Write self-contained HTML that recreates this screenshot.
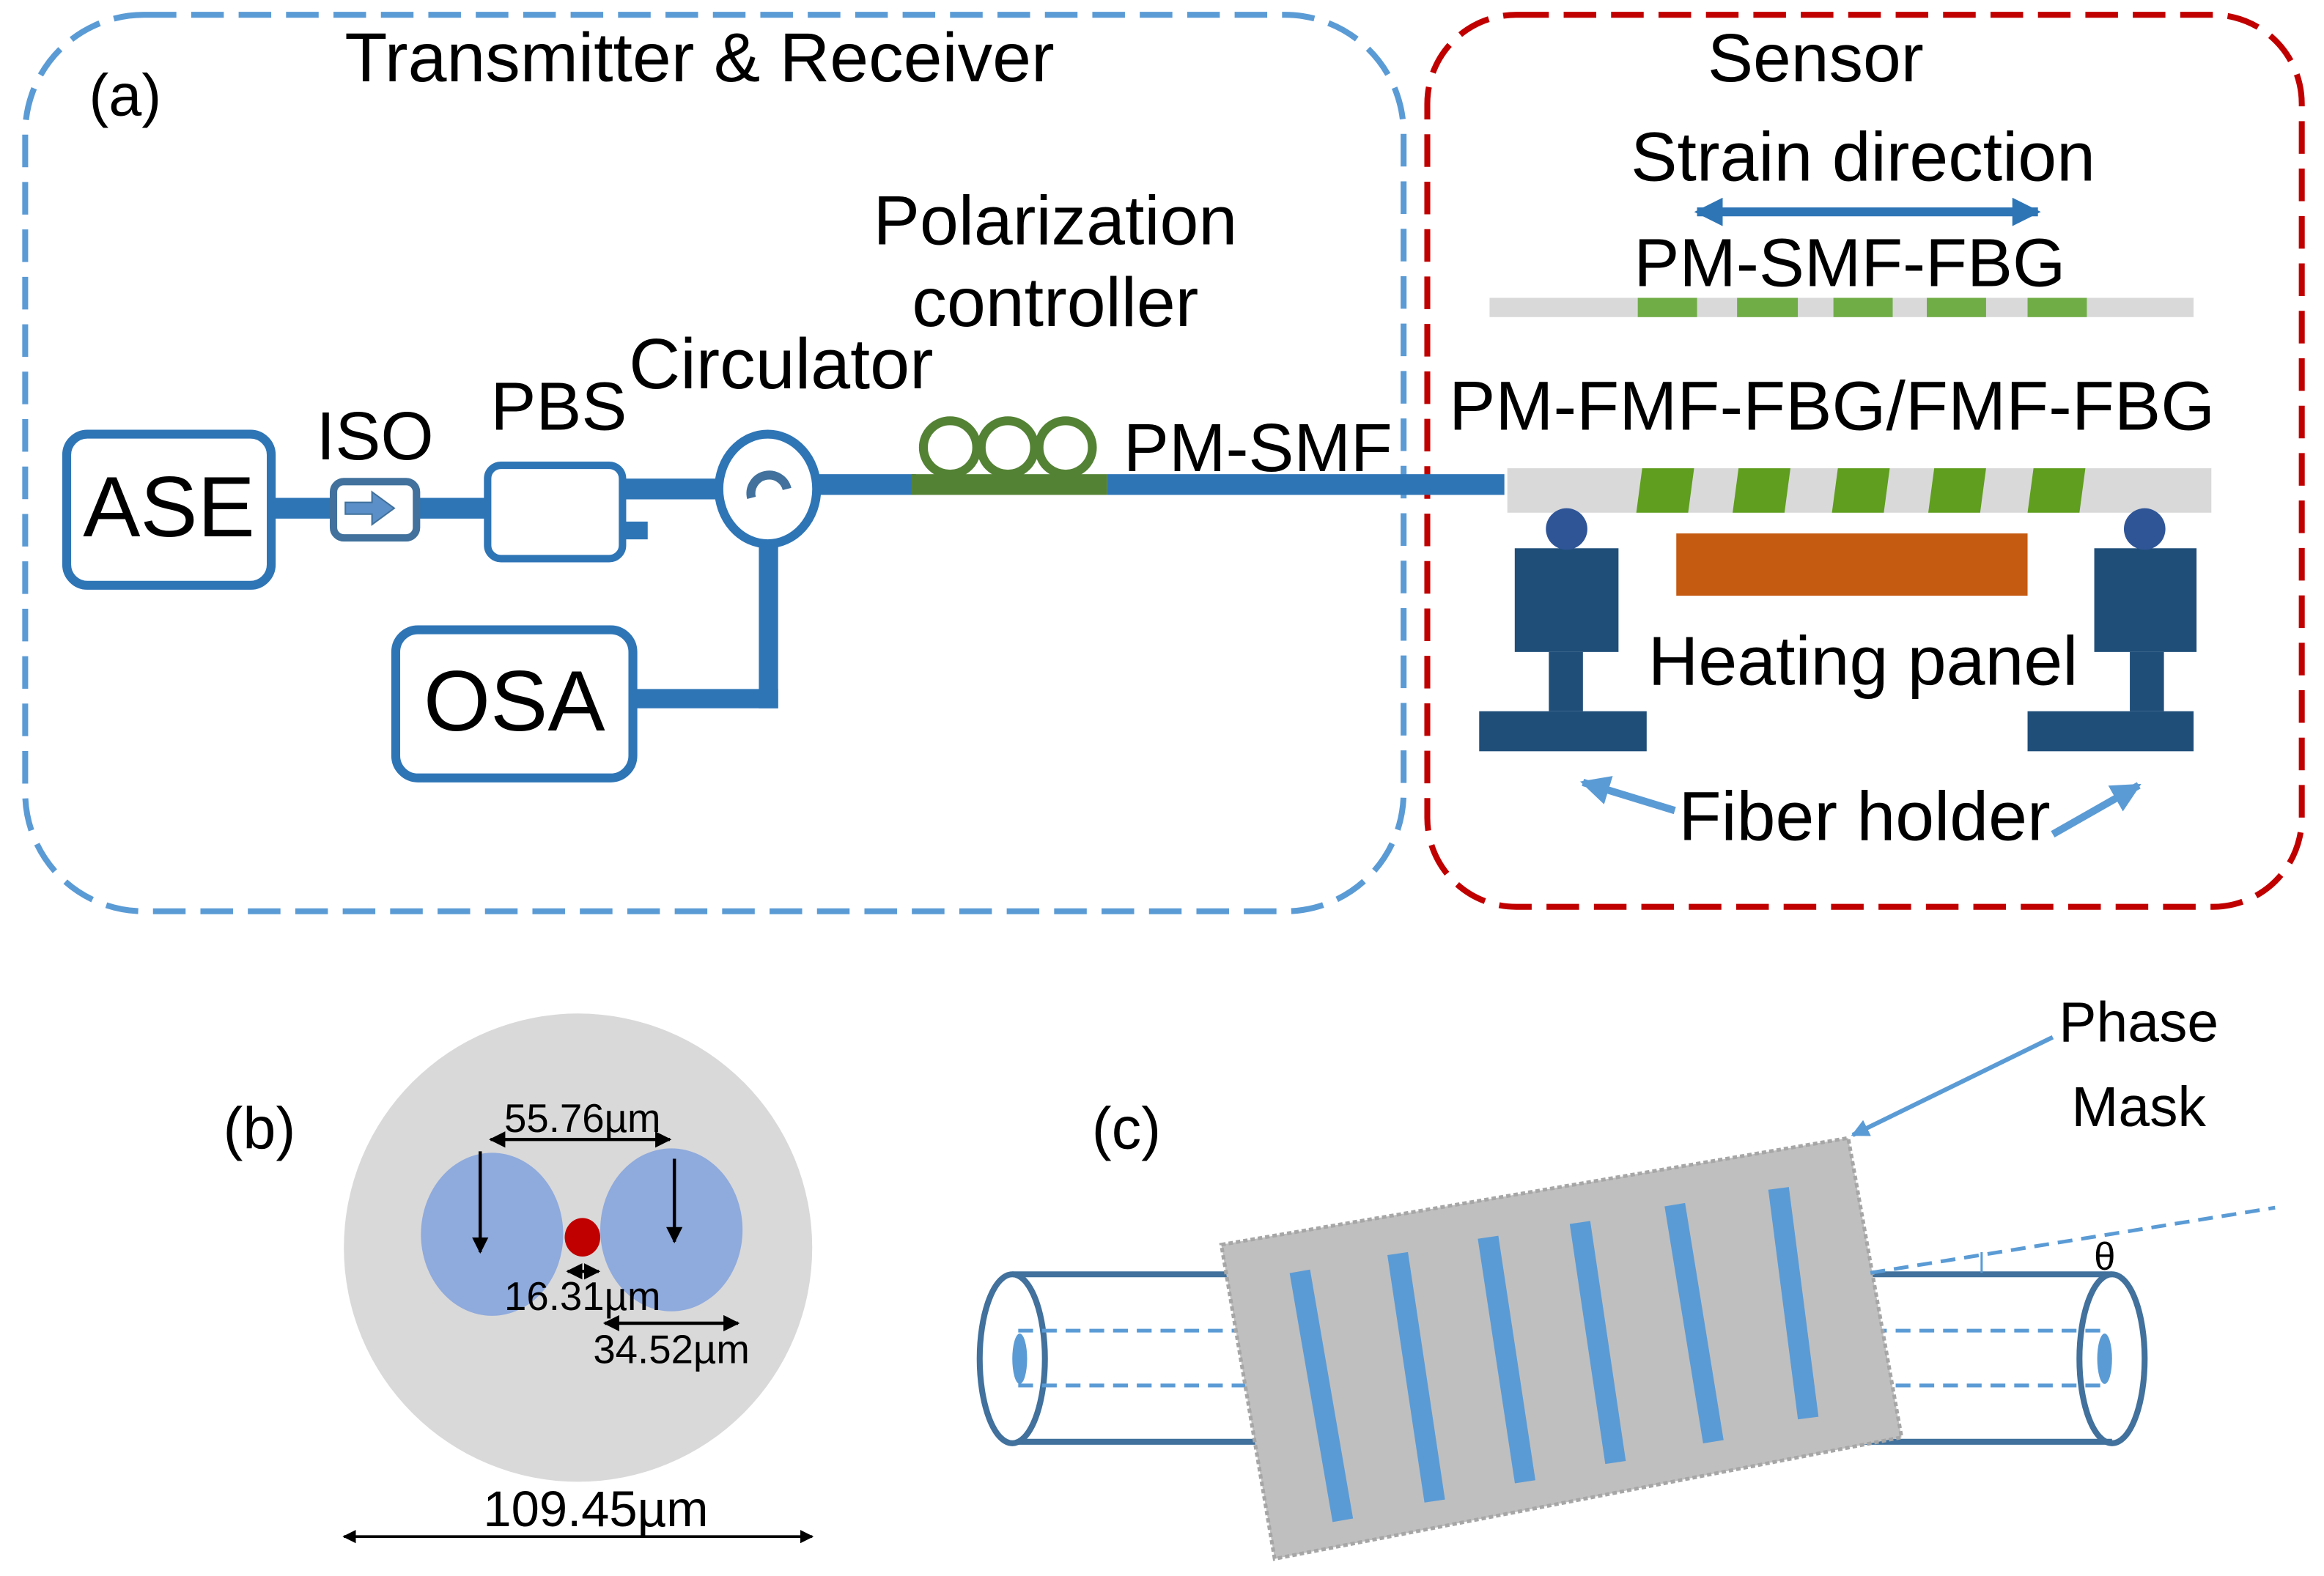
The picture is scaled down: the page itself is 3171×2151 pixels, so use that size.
<!DOCTYPE html>
<html><head><meta charset="utf-8"><style>html,body{margin:0;padding:0;background:#fff}svg{display:block}</style></head><body>
<svg width="3171" height="2151" viewBox="0 0 1568 1063.6" preserveAspectRatio="none" xmlns="http://www.w3.org/2000/svg" font-family="Liberation Sans, Arial, sans-serif">
<defs>
<marker id="ab" viewBox="0 0 10 10" refX="9" refY="5" markerWidth="5" markerHeight="5" orient="auto-start-reverse"><path d="M0,0L10,5L0,10z" fill="#000"/></marker>
<marker id="ablue" viewBox="0 0 10 10" refX="9" refY="5" markerWidth="3.2" markerHeight="3.2" orient="auto-start-reverse"><path d="M0,0L10,5L0,10z" fill="#2e75b6"/></marker>
<marker id="alb" viewBox="0 0 10 10" refX="9" refY="5" markerWidth="4" markerHeight="4" orient="auto-start-reverse"><path d="M0,0L10,5L0,10z" fill="#5b9bd5"/></marker>
</defs>
<rect x="17" y="10" width="930" height="605" rx="80" fill="none" stroke="#5b9bd5" stroke-width="4" stroke-dasharray="22,10"/>
<rect x="963" y="10" width="590" height="602" rx="60" fill="none" stroke="#c00000" stroke-width="4" stroke-dasharray="22,10"/>
<text x="60" y="78" font-size="40">(a)</text>
<text x="472" y="55" font-size="47" text-anchor="middle">Transmitter &amp; Receiver</text>
<text x="1225" y="55" font-size="46" text-anchor="middle">Sensor</text>
<g fill="#2e75b6">
<rect x="183" y="336" width="147" height="14"/>
<rect x="420" y="323" width="70" height="14"/>
<rect x="420" y="352" width="17" height="12"/>
<rect x="548" y="320" width="70" height="14"/>
<rect x="747" y="320" width="268" height="14"/>
<rect x="512" y="365" width="13" height="113"/>
<rect x="427" y="465" width="98" height="13"/>
</g>
<rect x="615" y="320" width="132" height="14" fill="#548235"/>
<g fill="none" stroke="#548235" stroke-width="6"><circle cx="641" cy="302" r="18"/><circle cx="680" cy="302" r="18"/><circle cx="719" cy="302" r="18"/></g>
<rect x="45" y="293" width="138" height="102" rx="14" fill="#fff" stroke="#2e75b6" stroke-width="6"/>
<text x="114" y="362" font-size="58" text-anchor="middle">ASE</text>
<text x="253" y="310" font-size="46" text-anchor="middle">ISO</text>
<rect x="225" y="325" width="56" height="38" rx="7" fill="#fff" stroke="#41719c" stroke-width="5"/>
<path d="M233,339h18v-7l15,11l-15,11v-7h-18z" fill="#5b8fc7" stroke="#41719c" stroke-width="1"/>
<rect x="329" y="314" width="91" height="63" rx="9" fill="#fff" stroke="#2e75b6" stroke-width="5"/>
<text x="377" y="290" font-size="46" text-anchor="middle">PBS</text>
<text x="527" y="262" font-size="48" text-anchor="middle">Circulator</text>
<ellipse cx="518" cy="330" rx="33" ry="37" fill="#fff" stroke="#2e75b6" stroke-width="6"/>
<path d="M507,336 a12,12 0 1 1 24,-6" fill="none" stroke="#41719c" stroke-width="6"/>
<text x="712" y="165" font-size="47" text-anchor="middle">Polarization</text>
<text x="712" y="220" font-size="47" text-anchor="middle">controller</text>
<text x="758" y="318" font-size="46">PM-SMF</text>
<rect x="267" y="425" width="160" height="100" rx="15" fill="#fff" stroke="#2e75b6" stroke-width="6"/>
<text x="347" y="493" font-size="58" text-anchor="middle">OSA</text>
<text x="1257" y="122" font-size="47" text-anchor="middle">Strain direction</text>
<line x1="1145" y1="143" x2="1375" y2="143" stroke="#2e75b6" stroke-width="6" marker-start="url(#ablue)" marker-end="url(#ablue)"/>
<text x="1248" y="193" font-size="46" text-anchor="middle">PM-SMF-FBG</text>
<rect x="1005" y="201" width="475" height="13" fill="#d9d9d9"/>
<g fill="#70ad47"><rect x="1105" y="201" width="40" height="13"/><rect x="1172" y="201" width="41" height="13"/><rect x="1237" y="201" width="40" height="13"/><rect x="1300" y="201" width="40" height="13"/><rect x="1368" y="201" width="40" height="13"/></g>
<text x="1236" y="290" font-size="47" text-anchor="middle">PM-FMF-FBG/FMF-FBG</text>
<rect x="1017" y="316" width="475" height="30" fill="#d9d9d9"/>
<g fill="#5f9e1e"><path d="M1108,316h35l-4,30h-35z"/><path d="M1173,316h35l-4,30h-35z"/><path d="M1240,316h35l-4,30h-35z"/><path d="M1305,316h35l-4,30h-35z"/><path d="M1372,316h35l-4,30h-35z"/></g>
<g fill="#1f4e79"><rect x="1022" y="370" width="70" height="70"/><rect x="1045" y="440" width="23" height="40"/><rect x="998" y="480" width="113" height="27"/>
<rect x="1413" y="370" width="69" height="70"/><rect x="1437" y="440" width="23" height="40"/><rect x="1368" y="480" width="112" height="27"/></g>
<circle cx="1057" cy="357" r="14" fill="#2f5597"/><circle cx="1447" cy="357" r="14" fill="#2f5597"/>
<rect x="1131" y="360" width="237" height="42" fill="#c55a11"/>
<text x="1257" y="462" font-size="47" text-anchor="middle">Heating panel</text>
<text x="1258" y="567" font-size="47" text-anchor="middle">Fiber holder</text>
<line x1="1130" y1="547" x2="1068" y2="528" stroke="#5b9bd5" stroke-width="5" marker-end="url(#alb)"/>
<line x1="1385" y1="563" x2="1443" y2="530" stroke="#5b9bd5" stroke-width="5" marker-end="url(#alb)"/>
<text x="175" y="775" font-size="40" text-anchor="middle">(b)</text>
<circle cx="390" cy="842" r="158" fill="#d9d9d9"/>
<ellipse cx="332" cy="833" rx="48" ry="55" fill="#8faadc"/>
<ellipse cx="453" cy="830" rx="48" ry="55" fill="#8faadc"/>
<ellipse cx="393" cy="835" rx="12" ry="13" fill="#c00000"/>
<g font-size="27" text-anchor="middle">
<text x="393" y="764">55.76µm</text>
<text x="393" y="884">16.31µm</text>
<text x="453" y="920">34.52µm</text>
</g>
<g stroke="#000" stroke-width="2.2" fill="none">
<line x1="331" y1="769" x2="452" y2="769" marker-start="url(#ab)" marker-end="url(#ab)"/>
<line x1="324" y1="777" x2="324" y2="845" marker-end="url(#ab)"/>
<line x1="455" y1="782" x2="455" y2="838" marker-end="url(#ab)"/>
<line x1="383" y1="858" x2="404" y2="858" marker-start="url(#ab)" marker-end="url(#ab)"/>
<line x1="408" y1="893" x2="498" y2="893" marker-start="url(#ab)" marker-end="url(#ab)"/>
<line x1="232" y1="1037" x2="548" y2="1037" stroke-width="1.8" marker-start="url(#ab)" marker-end="url(#ab)"/>
</g>
<text x="402" y="1030" font-size="34" text-anchor="middle">109.45µm</text>
<text x="760" y="775" font-size="40" text-anchor="middle">(c)</text>
<text x="1443" y="703" font-size="38" text-anchor="middle">Phase</text>
<text x="1443" y="760" font-size="38" text-anchor="middle">Mask</text>
<line x1="1385" y1="700" x2="1250" y2="766" stroke="#5b9bd5" stroke-width="3" marker-end="url(#alb)"/>
<g stroke="#41719c" stroke-width="4" fill="none">
<line x1="683" y1="860" x2="1425" y2="860"/><line x1="683" y1="973" x2="1425" y2="973"/>
<ellipse cx="683" cy="917" rx="22" ry="57" fill="#fff"/>
</g>
<g stroke="#5b9bd5" stroke-width="2.5" stroke-dasharray="10,6"><line x1="687" y1="898" x2="1420" y2="898"/><line x1="687" y1="935" x2="1420" y2="935"/></g>
<ellipse cx="1425" cy="917" rx="22" ry="57" fill="none" stroke="#41719c" stroke-width="4"/>
<ellipse cx="688" cy="917" rx="5" ry="17" fill="#5b9bd5"/><ellipse cx="1420" cy="917" rx="5" ry="17" fill="#5b9bd5"/>
<path d="M824,840L1247,768L1283,970L860,1052z" fill="#bfbfbf" stroke="#a6a6a6" stroke-width="2.5" stroke-dasharray="3,2"/>
<g stroke="#5b9bd5" stroke-width="14">
<line x1="877" y1="858" x2="906" y2="1026"/>
<line x1="943" y1="846" x2="968" y2="1013"/>
<line x1="1004" y1="835" x2="1029" y2="1000"/>
<line x1="1066" y1="825" x2="1090" y2="987"/>
<line x1="1130" y1="813" x2="1156" y2="973"/>
<line x1="1200" y1="802" x2="1220" y2="957"/>
</g>
<line x1="1262" y1="859" x2="1535" y2="815" stroke="#5b9bd5" stroke-width="2.5" stroke-dasharray="10,6"/>
<line x1="1337" y1="845" x2="1337" y2="859" stroke="#5b9bd5" stroke-width="1.5"/>
<text x="1420" y="857" font-size="26" text-anchor="middle">θ</text>
</svg>
</body></html>
